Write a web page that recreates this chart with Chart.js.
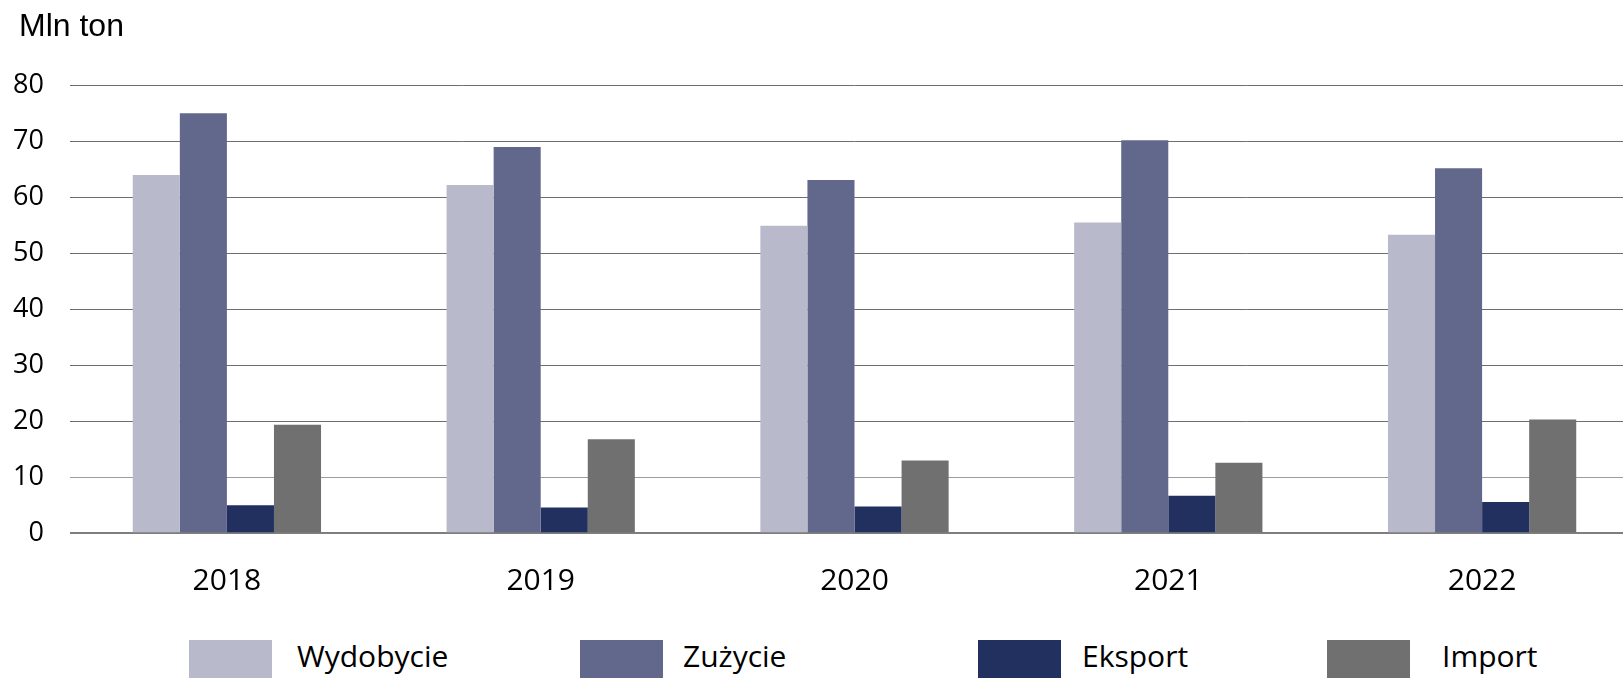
<!DOCTYPE html>
<html>
<head>
<meta charset="utf-8">
<script src="https://cdn.jsdelivr.net/npm/chart.js@4/dist/chart.umd.min.js"></script>
<style>
  html, body { margin: 0; padding: 0; background: #fff; overflow: hidden; width: 1623px; height: 678px; }
  #wrap { position: absolute; left: 0; top: 0; width: 1639px; height: 610px; }
  #unit { position: absolute; left: 19px; top: 7px; font-family: "Liberation Sans", Arial, sans-serif; font-size: 32px; line-height: 36px; color: #000; white-space: nowrap; }
  .lg-box { position: absolute; top: 640px; width: 83px; height: 40px; }
  .lg-txt { position: absolute; top: 636px; font-family: "Open Sans", sans-serif; font-size: 30px; line-height: 40px; color: #000; white-space: nowrap; }
</style>
</head>
<body>
<div id="wrap"><canvas id="c" width="1639" height="610"></canvas></div>
<div id="unit">Mln ton</div>
<div id="legend"></div>
<script>
const categories = ["2018", "2019", "2020", "2021", "2022"];
const seriesNames = ["Wydobycie", "Zużycie", "Eksport", "Import"];
const wydobycie = [64.0, 62.2, 54.9, 55.5, 53.3];
const zuzycie   = [75.0, 69.0, 63.1, 70.2, 65.2];
const eksport   = [5.0, 4.6, 4.8, 6.7, 5.6];
const importVal = [19.4, 16.8, 13.0, 12.6, 20.3];
const yTicks = [0, 10, 20, 30, 40, 50, 60, 70, 80];
const colors = ["#B8B9CB", "#62688C", "#21305E", "#707070"];

const seriesValues = [wydobycie, zuzycie, eksport, importVal];

const chart = new Chart(document.getElementById("c"), {
  type: "bar",
  data: {
    labels: categories,
    datasets: seriesNames.map((n, i) => ({
      label: n,
      data: seriesValues[i],
      backgroundColor: colors[i],
      borderWidth: 0,
      categoryPercentage: 0.6,
      barPercentage: 1.0
    }))
  },
  options: {
    responsive: false,
    devicePixelRatio: 1,
    animation: false,
    layout: { padding: { top: 85.3, left: 0, right: 0, bottom: 0 } },
    plugins: { legend: { display: false }, tooltip: { enabled: false }, title: { display: false } },
    scales: {
      x: {
        grid: { display: false, drawTicks: false },
        border: { display: false },
        ticks: { color: "#000", font: { family: "Open Sans", size: 30 }, padding: 30, maxRotation: 0 },
        afterFit: s => { s.height = 610 - 533.3; }
      },
      y: {
        min: 0, max: 80,
        afterBuildTicks: s => { s.ticks = yTicks.map(v => ({ value: v })); },
        grid: {
          drawTicks: false,
          color: ctx => ctx.tick.value === 0 ? "#7e7e7e" : (ctx.tick.value === 10 ? "#9c9c9c" : "#6e6e6e"),
          lineWidth: ctx => ctx.tick.value === 0 ? 2 : 1
        },
        border: { display: false },
        ticks: { color: "#000", font: { family: "Open Sans", size: 27 }, padding: 26 },
        afterFit: s => { s.width = 70; }
      }
    }
  }
});

// HTML legend
const lgLeft = [189, 580, 978, 1327];
const lgText = [297, 683, 1082, 1442];
const lg = document.getElementById("legend");
seriesNames.forEach((n, i) => {
  const b = document.createElement("div");
  b.className = "lg-box"; b.style.left = lgLeft[i] + "px"; b.style.background = colors[i];
  const t = document.createElement("div");
  t.className = "lg-txt"; t.style.left = lgText[i] + "px"; t.textContent = n;
  lg.appendChild(b); lg.appendChild(t);
});
</script>
</body>
</html>
